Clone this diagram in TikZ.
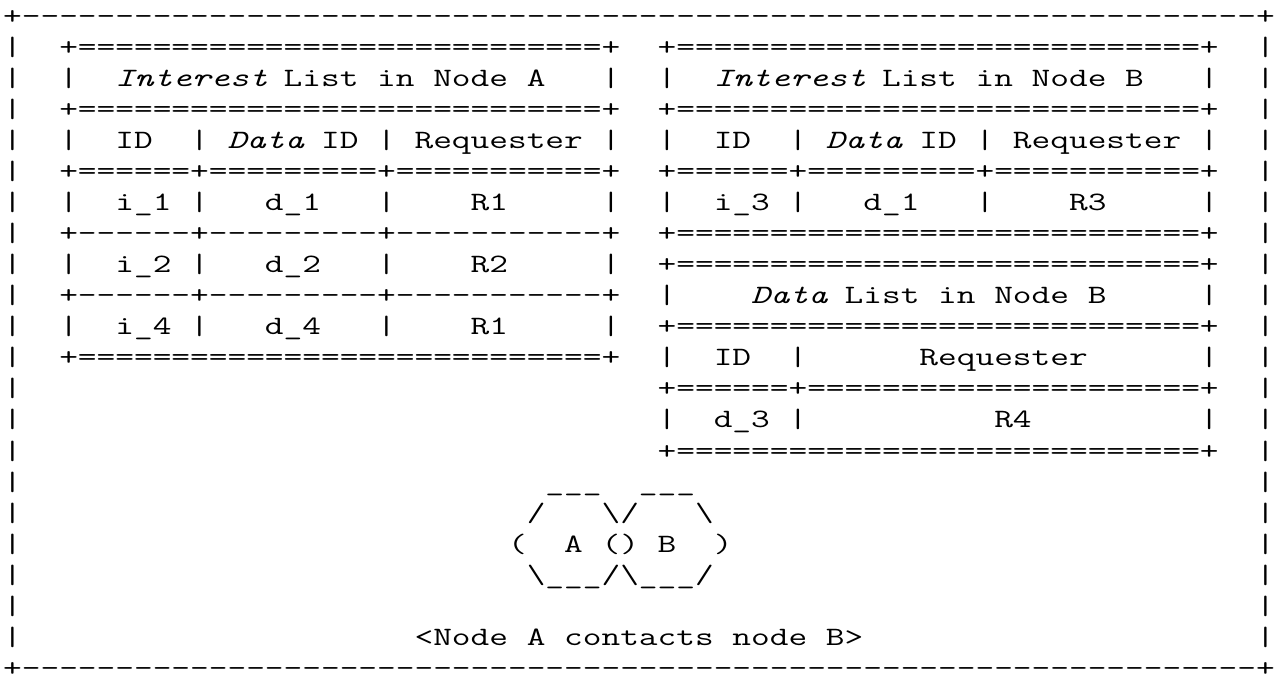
\documentclass[tikz,border=0pt]{standalone}
\usetikzlibrary{calc}
\newlength\rcw
\newcommand\rRep[2]{\foreach \rpi in {1,...,#1}{#2}}
\newcommand\rSp[1]{\rRep{#1}{~}}
\newcommand\rEq[1]{\rRep{#1}{=}}
\newcommand\rDash[1]{\rRep{#1}{\mbox{-}}}
\newcommand\rUl[1]{\rRep{#1}{\_}}
\newcommand\rBs{\textbackslash}
\newcommand\rIt[2]{\hbox to #1\rcw{\itshape #2\hss}}
\newcommand\tEq{+\rEq{28}+}
\newcommand\tTitle[1]{|\rSp{2}\rIt{8}{Interest} List in Node #1\rSp{3}|}
\newcommand\tHead{|\rSp{2}ID\rSp{2}|\rSp{1}\rIt{4}{Data}\rSp{1}ID\rSp{1}|\rSp{1}Requester\rSp{1}|}
\newcommand\tSepEq{+\rEq{6}+\rEq{9}+\rEq{11}+}
\newcommand\tSepDash{+\rDash{6}+\rDash{9}+\rDash{11}+}
\newcommand\tRow[3]{|\rSp{2}#1\rSp{1}|\rSp{3}#2\rSp{3}|\rSp{4}#3\rSp{5}|}
\newcommand\rFont{\fontsize{26.5}{30}\selectfont\ttfamily}
\AtBeginDocument{\settowidth\rcw{\rFont 0}\pgfmathsetmacro\rxs{18.7/\rcw}}
\begin{document}
\begin{tikzpicture}[x=1pt,y=1pt]
\tikzset{asciirow/.style={font=\rFont, anchor=base west,
  inner sep=0pt, outer sep=0pt, transform shape, xscale=\rxs, text=black}}
\useasboundingbox (0,0) rectangle (1275,-674);
\fill[white] (0,0) rectangle (1275,-674);
\def\rowy#1{-(24.3+31.05*#1)}
\node[asciirow] (r0) at (3.2,{\rowy{0}}) {+\rDash{66}+};
\node[asciirow] (r1) at (3.2,{\rowy{1}}) {|\rSp{2}\tEq\rSp{2}\tEq\rSp{2}|};
\node[asciirow] (r2) at (3.2,{\rowy{2}}) {|\rSp{2}\tTitle{A}\rSp{2}\tTitle{B}\rSp{2}|};
\node[asciirow] (r3) at (3.2,{\rowy{3}}) {|\rSp{2}\tEq\rSp{2}\tEq\rSp{2}|};
\node[asciirow] (r4) at (3.2,{\rowy{4}}) {|\rSp{2}\tHead\rSp{2}\tHead\rSp{2}|};
\node[asciirow] (r5) at (3.2,{\rowy{5}}) {|\rSp{2}\tSepEq\rSp{2}\tSepEq\rSp{2}|};
\node[asciirow] (r6) at (3.2,{\rowy{6}}) {|\rSp{2}\tRow{i\_1}{d\_1}{R1}\rSp{2}\tRow{i\_3}{d\_1}{R3}\rSp{2}|};
\node[asciirow] (r7) at (3.2,{\rowy{7}}) {|\rSp{2}\tSepDash\rSp{2}\tEq\rSp{2}|};
\node[asciirow] (r8) at (3.2,{\rowy{8}}) {|\rSp{2}\tRow{i\_2}{d\_2}{R2}\rSp{2}\tEq\rSp{2}|};
\node[asciirow] (r9) at (3.2,{\rowy{9}}) {|\rSp{2}\tSepDash\rSp{2}|\rSp{4}\rIt{4}{Data} List in Node B\rSp{5}|\rSp{2}|};
\node[asciirow] (r10) at (3.2,{\rowy{10}}) {|\rSp{2}\tRow{i\_4}{d\_4}{R1}\rSp{2}\tEq\rSp{2}|};
\node[asciirow] (r11) at (3.2,{\rowy{11}}) {|\rSp{2}\tEq\rSp{2}|\rSp{2}ID\rSp{2}|\rSp{6}Requester\rSp{6}|\rSp{2}|};
\node[asciirow] (r12) at (3.2,{\rowy{12}}) {|\rSp{34}+\rEq{6}+\rEq{21}+\rSp{2}|};
\node[asciirow] (r13) at (3.2,{\rowy{13}}) {|\rSp{34}|\rSp{2}d\_3\rSp{1}|\rSp{10}R4\rSp{9}|\rSp{2}|};
\node[asciirow] (r14) at (3.2,{\rowy{14}}) {|\rSp{34}\tEq\rSp{2}|};
\node[asciirow] (r15) at (3.2,{\rowy{15}}) {|\rSp{28}\rUl{3}\rSp{2}\rUl{3}\rSp{30}|};
\node[asciirow] (r16) at (3.2,{\rowy{16}}) {|\rSp{27}/\rSp{3}\rBs/\rSp{3}\rBs\rSp{29}|};
\node[asciirow] (r17) at (3.2,{\rowy{17}}) {|\rSp{26}(\rSp{2}A\rSp{1}()\rSp{1}B\rSp{2})\rSp{28}|};
\node[asciirow] (r18) at (3.2,{\rowy{18}}) {|\rSp{27}\rBs\rUl{3}/\rBs\rUl{3}/\rSp{29}|};
\node[asciirow] (r19) at (3.2,{\rowy{19}}) {|\rSp{66}|};
\node[asciirow] (r20) at (3.2,{\rowy{20}}) {|\rSp{21}<Node A contacts node B>\rSp{21}|};
\node[asciirow] (r21) at (3.2,{\rowy{21}}) {+\rDash{66}+};
\end{tikzpicture}
\end{document}
